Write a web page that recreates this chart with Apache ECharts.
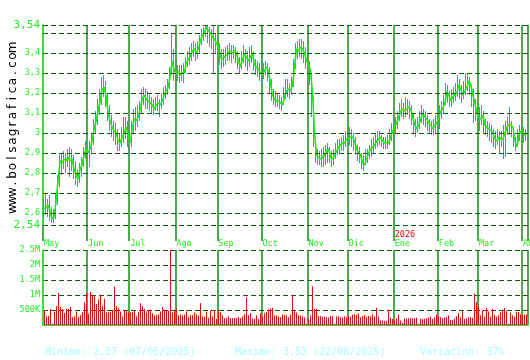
<!DOCTYPE html>
<html><head><meta charset="utf-8">
<script src="https://cdn.jsdelivr.net/npm/echarts@6/dist/echarts.min.js"></script>
<style>html,body{margin:0;padding:0;background:#fff}#c{width:530px;height:360px}</style>
</head><body><div id="c"></div><script>
const monthNames = ['Ene','Feb','Mar','Abr','May','Jun','Jul','Ago','Sep','Oct','Nov','Dic'];
const firstDay = [2025, 4, 1];
const dayCount = 242;

const closes = [
2.62,2.63,2.64,2.61,2.57,2.58,2.66,2.76,2.86,2.85,2.87,2.86,2.88,2.86,2.87,2.82,2.79,2.77,2.82,2.84,2.89,2.92,
2.90,2.92,2.96,3.02,3.06,3.11,3.16,3.22,3.23,3.18,3.10,3.06,3.03,3.01,3.00,2.96,2.95,2.98,3.00,3.03,2.99,
2.95,3.02,3.07,3.06,3.08,3.12,3.17,3.19,3.17,3.16,3.15,3.14,3.12,3.14,3.15,3.14,3.16,3.19,3.21,3.23,3.29,3.36,3.31,
3.30,3.31,3.29,3.30,3.30,3.35,3.37,3.38,3.41,3.42,3.40,3.42,3.46,3.49,3.50,3.53,3.51,3.50,3.48,3.47,3.45,
3.43,3.38,3.37,3.38,3.39,3.40,3.41,3.40,3.41,3.40,3.36,3.33,3.37,3.39,3.38,3.36,3.38,3.40,3.34,3.33,3.32,3.30,
3.29,3.31,3.33,3.31,3.25,3.19,3.17,3.16,3.16,3.15,3.14,3.18,3.21,3.22,3.21,3.24,3.33,3.42,3.41,3.43,3.42,3.40,3.36,
3.34,3.31,3.20,3.00,2.89,2.88,2.87,2.88,2.89,2.91,2.92,2.88,2.87,2.89,2.91,2.93,2.94,2.95,2.95,2.97,
2.97,2.98,2.98,2.96,2.92,2.90,2.89,2.85,2.84,2.87,2.90,2.92,2.93,2.94,2.96,2.97,2.98,2.96,2.95,2.95,2.95,2.98,3.01,
3.03,3.05,3.08,3.11,3.12,3.11,3.12,3.13,3.12,3.08,3.04,3.02,3.04,3.07,3.10,3.08,3.07,3.05,3.04,3.02,3.04,3.05,
3.08,3.11,3.12,3.15,3.21,3.19,3.16,3.18,3.19,3.20,3.24,3.22,3.19,3.21,3.23,3.26,3.24,3.19,3.15,3.10,
3.08,3.07,3.09,3.04,3.03,3.02,3.01,3.00,2.97,2.96,2.98,2.97,2.97,3.00,3.03,3.04,3.04,3.03,2.96,2.93,2.99,3.01,
3.00,2.99,3.00];

const highs = [
2.68,2.70,2.67,2.69,2.63,2.62,2.70,2.79,2.89,2.90,2.91,2.90,2.92,2.93,2.92,2.89,2.86,2.82,2.85,2.88,2.93,2.96,
2.95,2.96,3.00,3.07,3.11,3.17,3.22,3.28,3.29,3.26,3.20,3.14,3.09,3.06,3.05,3.02,3.00,3.03,3.08,3.08,3.06,
3.01,3.06,3.12,3.13,3.14,3.16,3.22,3.23,3.22,3.21,3.19,3.18,3.17,3.18,3.19,3.17,3.20,3.23,3.24,3.27,3.33,3.50,3.42,
3.35,3.34,3.34,3.34,3.35,3.38,3.41,3.43,3.45,3.46,3.45,3.46,3.49,3.52,3.53,3.54,3.54,3.53,3.52,3.54,3.50,
3.47,3.45,3.42,3.42,3.43,3.44,3.45,3.44,3.44,3.43,3.41,3.38,3.41,3.44,3.42,3.41,3.43,3.44,3.41,3.37,3.36,3.35,
3.33,3.35,3.36,3.35,3.33,3.27,3.22,3.21,3.20,3.19,3.18,3.23,3.27,3.27,3.25,3.28,3.37,3.45,3.46,3.47,3.47,3.46,3.43,
3.39,3.36,3.30,3.18,2.97,2.92,2.91,2.92,2.93,2.94,2.95,2.93,2.91,2.92,2.95,2.97,2.97,2.98,2.99,3.01,
3.01,3.03,3.02,3.00,2.98,2.94,2.93,2.90,2.89,2.92,2.92,2.94,2.97,2.98,3.00,3.01,3.01,2.99,2.98,2.98,2.99,3.02,3.05,
3.06,3.08,3.11,3.15,3.17,3.15,3.18,3.17,3.16,3.14,3.10,3.07,3.08,3.11,3.14,3.12,3.11,3.09,3.07,3.06,3.07,3.09,
3.12,3.14,3.16,3.19,3.25,3.24,3.21,3.22,3.23,3.25,3.29,3.27,3.24,3.26,3.30,3.30,3.28,3.24,3.22,3.17,
3.14,3.13,3.14,3.11,3.07,3.06,3.05,3.04,3.02,3.01,3.02,3.01,3.01,3.04,3.06,3.08,3.13,3.06,3.01,2.98,3.02,3.04,
3.03,3.03,3.02];

const lows = [
2.57,2.59,2.58,2.56,2.55,2.55,2.57,2.64,2.73,2.79,2.82,2.80,2.83,2.78,2.81,2.77,2.74,2.73,2.75,2.78,2.83,2.87,
2.86,2.83,2.90,2.94,3.00,3.04,3.09,3.14,3.18,3.13,3.06,3.01,2.98,2.96,2.94,2.91,2.91,2.93,2.95,2.97,2.93,
2.87,2.93,3.00,3.01,3.03,3.06,3.10,3.14,3.12,3.12,3.11,3.10,3.09,3.11,3.11,3.08,3.12,3.14,3.17,3.19,3.22,3.29,3.26,
3.25,3.26,3.25,3.26,3.25,3.30,3.33,3.34,3.36,3.38,3.36,3.37,3.40,3.44,3.46,3.48,3.45,3.43,3.42,3.30,3.40,
3.37,3.34,3.32,3.33,3.34,3.36,3.36,3.35,3.37,3.35,3.32,3.30,3.32,3.35,3.33,3.31,3.33,3.35,3.31,3.29,3.28,3.26,
3.24,3.27,3.29,3.26,3.20,3.16,3.14,3.13,3.13,3.12,3.11,3.14,3.17,3.18,3.17,3.19,3.23,3.32,3.37,3.38,3.37,3.35,3.32,
3.29,3.24,3.08,2.93,2.85,2.84,2.84,2.83,2.83,2.84,2.85,2.85,2.83,2.84,2.87,2.89,2.90,2.91,2.91,2.93,
2.94,2.94,2.93,2.91,2.89,2.86,2.85,2.82,2.81,2.84,2.85,2.87,2.88,2.90,2.92,2.93,2.94,2.93,2.92,2.92,2.92,2.94,2.96,
2.97,3.00,3.02,3.06,3.08,3.07,3.08,3.09,3.07,3.04,3.00,2.98,3.00,3.02,3.05,3.04,3.03,3.01,3.00,2.99,2.99,3.00,
3.02,3.02,3.07,3.10,3.14,3.15,3.13,3.13,3.15,3.16,3.18,3.17,3.15,3.17,3.19,3.21,3.19,3.13,3.05,3.06,
3.03,3.01,3.04,3.00,2.99,2.98,2.96,2.95,2.93,2.92,2.94,2.90,2.93,2.87,2.88,2.99,2.99,2.98,2.93,2.91,2.94,2.96,
2.95,2.95,2.96];

const volumesK = [
500,290,300,530,40,450,630,1070,600,530,400,540,540,600,260,290,450,260,330,430,760,1070,
380,1100,980,950,700,850,1010,630,880,420,430,450,510,1290,630,570,450,280,500,470,420,
420,430,470,290,430,730,630,540,410,500,510,390,320,340,350,450,600,510,500,480,2500,420,470,
550,320,350,320,350,480,260,330,330,420,360,310,730,280,280,450,230,480,290,500,200,
500,420,320,230,230,290,230,230,230,230,270,230,290,360,920,320,390,220,200,320,200,390,
280,390,420,510,550,570,320,320,280,260,350,340,320,260,350,960,470,420,320,320,280,250,40,
200,320,1290,540,540,300,300,280,270,260,250,300,300,40,290,290,260,250,290,260,
300,280,340,360,340,390,260,300,330,270,300,280,350,280,570,280,150,140,140,140,510,250,200,
150,220,350,150,70,220,220,220,240,220,220,250,40,210,210,210,220,250,280,200,250,350,
290,260,220,250,280,320,170,170,210,290,400,250,470,200,220,260,260,240,1050,760,
630,320,480,270,570,450,280,530,340,280,320,430,510,570,470,40,410,320,280,440,440,350,
350,350,350];

const priceLines = [2.54,2.6,2.7,2.8,2.9,3.0,3.1,3.2,3.3,3.4,3.5,3.54];
const priceLabels = ['2,54','2,6','2,7','2,8','2,9','3','3,1','3,2','3,3','3,4','','3,54'];
const footerTexts = ['Minimo: 2,57 (07/05/2025)','Maximo: 3,53 (22/08/2025)','Variación: 37%'];
const watermark = 'www.bolsagrafica.com';

// trading-day categories (weekdays)
const dates = [];
{ const d = new Date(Date.UTC(firstDay[0], firstDay[1], firstDay[2]));
  while (dates.length < dayCount) {
    const wd = d.getUTCDay();
    if (wd !== 0 && wd !== 6) dates.push(d.toISOString().slice(0,10));
    d.setUTCDate(d.getUTCDate() + 1);
  } }
const monthStart = new Set();
dates.forEach((s,i)=>{ if (i===0 || s.slice(5,7)!==dates[i-1].slice(5,7)) monthStart.add(i); });
const isStart = (idx) => monthStart.has(idx);

const MONO = "'DejaVu Sans Mono', monospace";
const GREEN = '#22ee22';
const GRID_DASH = '#0b5e0b';
const MONTH_LINE = '#138c13';
const WICK = '#25a5bb';
const VOL = '#e01010';

const chart = echarts.init(document.getElementById('c'), null, {renderer:'canvas'});

const graphics = [];
footerTexts.forEach((t,k)=>{
  graphics.push({type:'text', left: [45,235,420][k], top: 347,
    style:{text:t, fill:'#a8ffff', font:'10px ' + MONO}});
});
const wmChildren = [];
for (let k=0;k<watermark.length;k++) {
  wmChildren.push({type:'text', x: k*8.5 + 4, y: 0,
    style:{text:watermark[k], fill:'#000', font:"12px 'DejaVu Sans', sans-serif", align:'center', verticalAlign:'middle'}});
}
graphics.push({type:'group', x: 13, y: 213, rotation: Math.PI/2, children: wmChildren});

function vLine(api, x0, yA, yB, color, shift) {
  const p1 = api.coord([x0, yA]);
  const p2 = api.coord([x0, yB]);
  const x = Math.floor(p1[0]) + 0.5 - shift;
  return {type:'line', shape:{x1:x, y1:p1[1], x2:x, y2:p2[1]},
          style:{stroke:color, lineWidth:1}};
}

const option = {
  animation:false,
  backgroundColor:'#ffffff',
  grid:[
    {left:43, right:2, top:25, height:200, outerBoundsMode:'none', containLabel:false},
    {left:43, right:2, top:250, height:75, outerBoundsMode:'none', containLabel:false}
  ],
  xAxis:[
    {type:'category', gridIndex:0, data:dates, boundaryGap:true,
     axisLine:{show:false},
     axisTick:{show:true, interval:isStart, length:16, lineStyle:{color:MONTH_LINE, width:1.5}},
     splitLine:{show:true, interval:isStart, lineStyle:{color:MONTH_LINE, width:1.5}},
     axisLabel:{show:true, interval:isStart, align:'left', verticalAlign:'bottom', margin:23,
       hideOverlap:false,
       formatter:(v)=>{ const m = +v.slice(5,7)-1; const name = monthNames[m];
         return m===0 ? '{y|' + v.slice(0,4) + '}\n{m|' + name + '}' : '{m|' + name + '}'; },
       rich:{ m:{color:GREEN, fontFamily:MONO, fontSize:8.5, lineHeight:9},
              y:{color:'#ee0000', fontFamily:MONO, fontSize:8.5, lineHeight:9} } }
    },
    {type:'category', gridIndex:1, data:dates, boundaryGap:true,
     axisLine:{show:true, lineStyle:{color:'#33dd33', width:2}},
     axisTick:{show:false}, axisLabel:{show:false},
     splitLine:{show:true, interval:isStart, lineStyle:{color:MONTH_LINE, width:1.5}}
    }
  ],
  yAxis:[
    {type:'value', gridIndex:0, min:2.54, max:3.54,
     axisLine:{show:true, lineStyle:{color:'#33ee33', width:1.5}},
     axisTick:{show:false}, axisLabel:{show:false}, splitLine:{show:false}},
    {type:'value', gridIndex:1, min:0, max:2500, interval:500,
     axisLine:{show:true, lineStyle:{color:'#33ee33', width:1.5}},
     axisTick:{show:false},
     axisLabel:{color:GREEN, fontFamily:MONO, fontSize:8.5, margin:3, showMinLabel:false,
       formatter:(v)=> v===0 ? '' : (v>=1000 ? (v/1000)+'M' : v+'K')},
     splitLine:{show:true, lineStyle:{color:GRID_DASH, type:[5,3], width:1}}}
  ],
  series:[
    {type:'custom', xAxisIndex:0, yAxisIndex:0,
     data: lows.map((l,i)=>[i, l, highs[i]]),
     encode:{x:0, y:[1,2]},
     renderItem:(params, api)=> vLine(api, api.value(0), api.value(1), api.value(2), WICK, 1),
     z:3},
    {type:'line', xAxisIndex:0, yAxisIndex:0, data:closes, symbol:'none',
     lineStyle:{color:'#11f011', width:1.6}, z:4,
     markLine:{silent:true, symbol:'none', animation:false,
       lineStyle:{type:[5,3], color:GRID_DASH, width:1},
       label:{position:'start', distance:3, color:GREEN, fontFamily:MONO, fontSize:8.5},
       data: priceLines.map((v,k)=>({yAxis:v,
         label:{formatter: priceLabels[k], fontSize: (k===0||k===priceLines.length-1) ? 11 : 8.5}}))
     }},
    {type:'custom', xAxisIndex:1, yAxisIndex:1,
     data: volumesK.map((v,i)=>[i, v]),
     encode:{x:0, y:1},
     renderItem:(params, api)=> vLine(api, api.value(0), 0, api.value(1), VOL, 0),
     z:3}
  ],
  graphic: graphics
};
chart.setOption(option);
</script></body></html>
